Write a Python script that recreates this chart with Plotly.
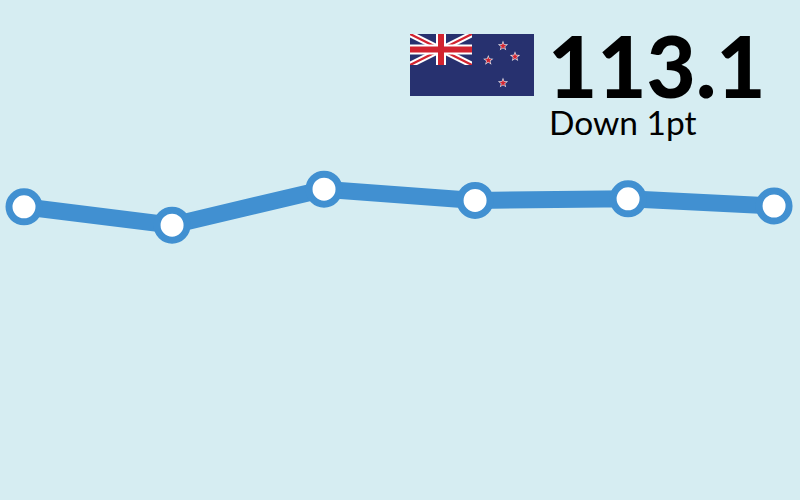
import plotly.graph_objects as go

# ---------------------------------------------------------------------------
# Data
# ---------------------------------------------------------------------------
periods = [0, 0.987, 2, 3.007, 4.027, 5]
index_values = [113.0, 110.7, 115.2, 113.8, 114.0, 113.1]
headline = "113.1"
subhead = "Down 1pt"

BG = "#d6edf2"
BLUE = "#4190d1"
NAVY = "#27316f"
RED = "#d2232f"
W, H = 800, 500


# Flag helpers: pixels from the top left of the page, mapped to paper coords
def px(x):
    return x / W


def py(y):
    return 1 - y / H


def poly(points, fill):
    path = "M " + " L ".join(f"{px(x):.5f},{py(y):.5f}" for x, y in points) + " Z"
    return dict(type="path", xref="paper", yref="paper", path=path,
                fillcolor=fill, line_width=0, layer="above")


def rect(x0, y0, x1, y1, fill):
    return poly([(x0, y0), (x1, y0), (x1, y1), (x0, y1)], fill)


def star(cx, cy, r, fill):
    from math import cos, sin, pi
    pts = []
    for i in range(10):
        rad = r if i % 2 == 0 else r * 0.42
        ang = -pi / 2 + i * pi / 5
        pts.append((cx + rad * cos(ang), cy + rad * sin(ang)))
    return poly(pts, fill)


def diagonal(x0, y0, x1, y1, d, e, fill):
    # band from top-left to bottom-right corner of the canton
    return poly([(x0, y0), (x0 + d, y0), (x1, y1 - e), (x1, y1), (x1 - d, y1), (x0, y0 + e)], fill)


def antidiagonal(x0, y0, x1, y1, d, e, fill):
    return poly([(x1, y0), (x1, y0 + e), (x0 + d, y1), (x0, y1), (x0, y1 - e), (x1 - d, y0)], fill)


def flag_shapes():
    x0, y0, x1, y1 = 410, 34, 472, 65
    shapes = [rect(410, 34, 534, 96, NAVY)]
    shapes.append(diagonal(x0, y0, x1, y1, 7, 3.5, "#ffffff"))
    shapes.append(antidiagonal(x0, y0, x1, y1, 7, 3.5, "#ffffff"))
    shapes.append(diagonal(x0, y0, x1, y1, 2.6, 1.3, RED))
    shapes.append(antidiagonal(x0, y0, x1, y1, 2.6, 1.3, RED))
    shapes.append(rect(436, y0, 446, y1, "#ffffff"))
    shapes.append(rect(x0, 44.5, x1, 54.5, "#ffffff"))
    shapes.append(rect(438, y0, 444, y1, RED))
    shapes.append(rect(x0, 46.5, x1, 52.5, RED))
    for cx, cy in [(503, 46), (488.3, 60.3), (515, 56.7), (503, 83)]:
        shapes.append(star(cx, cy, 5.4, "#e8e4ea"))
        shapes.append(star(cx, cy, 3.6, RED))
    return shapes


fig = go.Figure(
    go.Scatter(
        x=periods,
        y=index_values,
        mode="lines+markers",
        line=dict(color=BLUE, width=17),
        marker=dict(size=30, color="#ffffff", line=dict(color=BLUE, width=7)),
        hoverinfo="skip",
        cliponaxis=False,
    )
)

fig.update_layout(
    width=W,
    height=H,
    margin=dict(l=0, r=0, t=0, b=0),
    paper_bgcolor=BG,
    plot_bgcolor=BG,
    showlegend=False,
    shapes=flag_shapes(),
    xaxis=dict(visible=False, range=[-0.16, 5.173]),
    yaxis=dict(visible=False, range=[76.35, 138.85]),
    annotations=[
        dict(text=headline, x=px(546), y=py(65), xref="paper", yref="paper",
             xanchor="left", yanchor="middle", showarrow=False,
             font=dict(family="Lato", size=85, color="#000000", weight=900)),
        dict(text=subhead, x=px(547), y=py(122), xref="paper", yref="paper",
             xanchor="left", yanchor="middle", showarrow=False,
             font=dict(family="Lato", size=33.5, color="#000000")),
    ],
)

fig.write_html("out.html", config=dict(displayModeBar=False),
               post_script="document.body.style.margin='0';")
